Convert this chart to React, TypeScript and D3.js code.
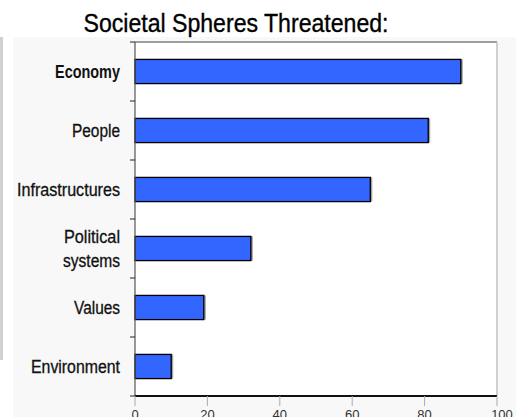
import React from "react";
import * as d3 from "d3";

const categories = ["Economy", "People", "Infrastructures", "Political systems", "Values", "Environment"];
const shares = [90, 81, 65, 32, 19, 10];
const xTicks = [0, 20, 40, 60, 80, 100];
const boldCategories = ["Economy"];

// rendered widths of the condensed label lines
const labelWidth: Record<string, number> = {
  Economy: 65,
  People: 48,
  Infrastructures: 103,
  Political: 56,
  systems: 57,
  Values: 46,
  Environment: 89,
};

const W = 516;
const H = 417;
const M = { left: 135, right: 497, top: 42, bottom: 396 };
const NARROW = "'Liberation Sans Narrow', 'Arial Narrow', 'Liberation Sans', Arial, sans-serif";

export default function App() {
  const x = d3.scaleLinear().domain([0, 100]).range([M.left, M.right]);
  const y = d3
    .scaleBand<string>()
    .domain(categories)
    .range([M.top, M.bottom])
    .paddingInner(0.59)
    .paddingOuter(0.295);
  const step = y.step();
  const boundaries = d3.range(categories.length + 1).map((i) => M.top + i * step);

  return (
    <svg
      width={W}
      height={H}
      style={{ position: "absolute", left: 0, top: 0, display: "block", background: "#ffffff" }}
    >
      {/* panel background and dotted left edge */}
      <rect x={13} y={37} width={W - 13} height={H - 37} fill="#f8f8f8" />
      <rect x={0} y={37} width={3} height={323} fill="#bdbdbd" opacity={0.7} />
      <rect x={M.left} y={M.top} width={M.right - M.left} height={M.bottom - M.top} fill="#ffffff" />

      <text
        x={236}
        y={32}
        textAnchor="middle"
        fontFamily={NARROW}
        fontSize={25}
        fill="#000"
        stroke="#000"
        strokeWidth={0.35}
        textLength={305}
        lengthAdjust="spacingAndGlyphs"
      >
        Societal Spheres Threatened:
      </text>

      {/* plot frame */}
      <line x1={M.left} x2={M.right} y1={M.top} y2={M.top} stroke="#808080" strokeWidth={1.5} />
      <line x1={M.right} x2={M.right} y1={M.top} y2={M.bottom} stroke="#c0c0c0" strokeWidth={1.5} />

      {/* bars */}
      {categories.map((c, i) => {
        const y0 = y(c)!;
        const bw = x(shares[i]) - x(0);
        return (
          <g key={c}>
            <rect x={x(0) + 2} y={y0} width={bw} height={y.bandwidth()} fill="#8a8a8a" opacity={0.8} />
            <rect
              x={x(0)}
              y={y0}
              width={bw}
              height={y.bandwidth()}
              fill="#3366ff"
              stroke="#000"
              strokeWidth={1.3}
            />
          </g>
        );
      })}

      {/* category axis */}
      <line x1={M.left} x2={M.left} y1={M.top} y2={M.bottom} stroke="#555" strokeWidth={1.2} />
      {boundaries.map((b, i) => (
        <line key={i} x1={M.left - 5} x2={M.left} y1={b} y2={b} stroke="#222" strokeWidth={1} />
      ))}
      {categories.map((c) => {
        const cy = y(c)! + y.bandwidth() / 2;
        const words = c === "Political systems" ? ["Political", "systems"] : [c];
        const bold = boldCategories.includes(c);
        return words.map((w, k) => (
          <text
            key={w}
            x={120}
            y={cy + 6.5 + (k - (words.length - 1) / 2) * 23.5}
            textAnchor="end"
            fontFamily={NARROW}
            fontSize={17.5}
            fontWeight={bold ? "bold" : "normal"}
            fill="#111"
            stroke="#111"
            strokeWidth={bold ? 0 : 0.3}
            textLength={labelWidth[w]}
            lengthAdjust="spacingAndGlyphs"
          >
            {w}
          </text>
        ));
      })}

      {/* value axis */}
      <line x1={M.left} x2={M.right} y1={M.bottom} y2={M.bottom} stroke="#111" strokeWidth={1.8} />
      {xTicks.map((t) => (
        <g key={t}>
          <line x1={x(t)} x2={x(t)} y1={M.bottom} y2={M.bottom + 10} stroke="#aaa" strokeWidth={1} />
          <text
            x={x(t) + (t === 100 ? 5 : 0)}
            y={418.5}
            textAnchor="middle"
            fontFamily={NARROW}
            fontSize={13}
            fill="#333"
          >
            {t}
          </text>
        </g>
      ))}
    </svg>
  );
}
